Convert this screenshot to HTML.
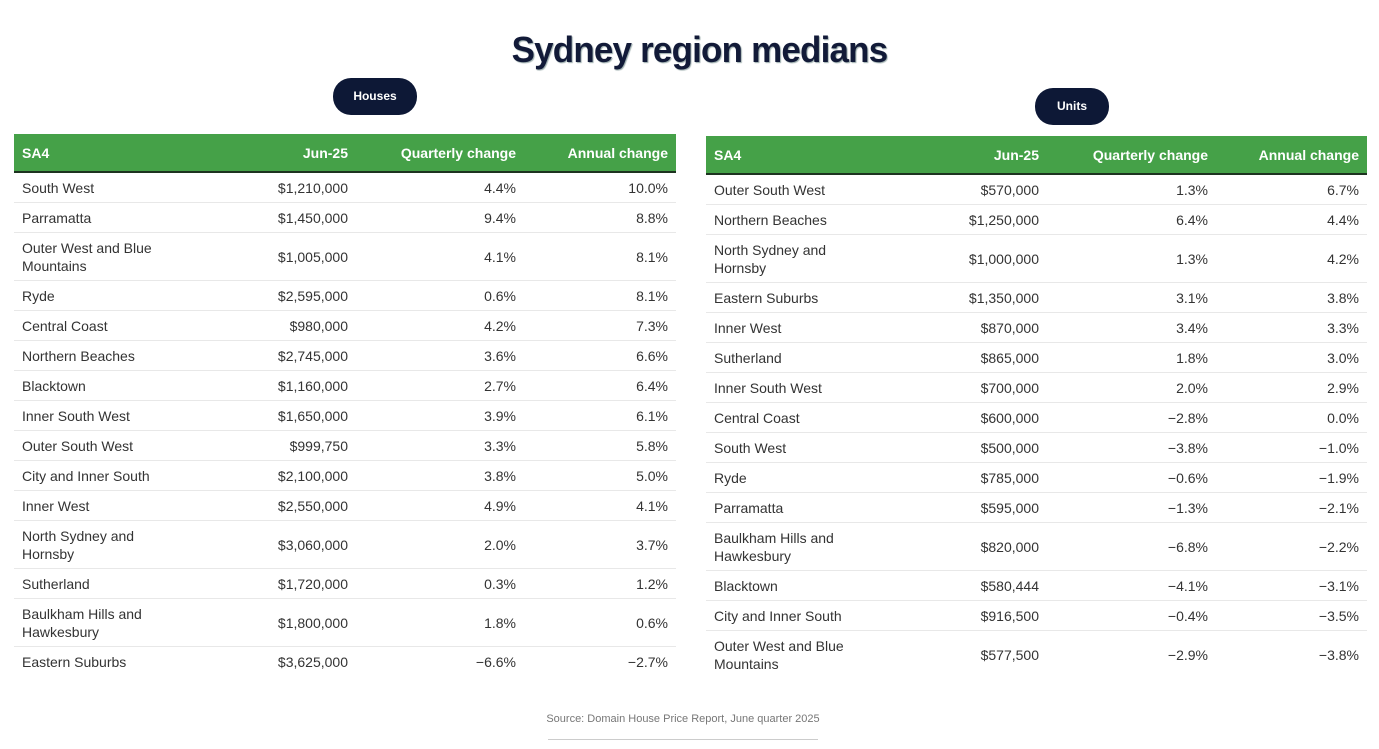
<!DOCTYPE html>
<html><head><meta charset="utf-8"><style>
body{margin:0;width:1379px;height:749px;background:#fff;position:relative;overflow:hidden;font-family:"Liberation Sans",sans-serif;}
.title{position:absolute;left:0;width:1399px;top:29px;text-align:center;font-size:36px;font-weight:bold;color:#121a38;letter-spacing:-0.8px;text-shadow:1px 1px 1px #9aa;transform:scaleX(0.97);}
.pill{position:absolute;background:#0d1836;color:#fff;font-weight:bold;font-size:12px;border-radius:18px;text-align:center;}
table{position:absolute;border-collapse:collapse;font-size:14px;color:#333;}
th{background:#45a148;color:#fff;font-size:14px;font-weight:bold;height:37px;border-bottom:2px solid #1d3320;text-align:right;padding:0 8px;}
th:first-child,td:first-child{text-align:left;}
td{height:29px;border-bottom:1px solid #e8e8e8;text-align:right;padding:0 8px;line-height:18px;}
td.d{height:47px;}
tr:last-child td{border-bottom:none;}
.src{position:absolute;left:448px;width:470px;top:713px;text-align:center;font-size:11px;color:#777;white-space:nowrap;}
.ln{position:absolute;left:548px;width:270px;top:739px;height:1px;background:#ccc;}
</style></head><body>
<div class="title">Sydney region medians</div>
<div class="pill" style="left:333px;top:78px;width:84px;height:37px;line-height:37px;">Houses</div>
<div class="pill" style="left:1035px;top:88px;width:74px;height:37px;line-height:37px;">Units</div>
<table style="left:14px;top:134px;width:662px;">
<colgroup><col style="width:186px"><col style="width:156px"><col style="width:168px"><col style="width:152px"></colgroup>
<tr><th>SA4</th><th>Jun-25</th><th>Quarterly change</th><th>Annual change</th></tr>
<tr><td>South West</td><td>$1,210,000</td><td>4.4%</td><td>10.0%</td></tr>
<tr><td>Parramatta</td><td>$1,450,000</td><td>9.4%</td><td>8.8%</td></tr>
<tr><td class="d">Outer West and Blue<br>Mountains</td><td>$1,005,000</td><td>4.1%</td><td>8.1%</td></tr>
<tr><td>Ryde</td><td>$2,595,000</td><td>0.6%</td><td>8.1%</td></tr>
<tr><td>Central Coast</td><td>$980,000</td><td>4.2%</td><td>7.3%</td></tr>
<tr><td>Northern Beaches</td><td>$2,745,000</td><td>3.6%</td><td>6.6%</td></tr>
<tr><td>Blacktown</td><td>$1,160,000</td><td>2.7%</td><td>6.4%</td></tr>
<tr><td>Inner South West</td><td>$1,650,000</td><td>3.9%</td><td>6.1%</td></tr>
<tr><td>Outer South West</td><td>$999,750</td><td>3.3%</td><td>5.8%</td></tr>
<tr><td>City and Inner South</td><td>$2,100,000</td><td>3.8%</td><td>5.0%</td></tr>
<tr><td>Inner West</td><td>$2,550,000</td><td>4.9%</td><td>4.1%</td></tr>
<tr><td class="d">North Sydney and<br>Hornsby</td><td>$3,060,000</td><td>2.0%</td><td>3.7%</td></tr>
<tr><td>Sutherland</td><td>$1,720,000</td><td>0.3%</td><td>1.2%</td></tr>
<tr><td class="d">Baulkham Hills and<br>Hawkesbury</td><td>$1,800,000</td><td>1.8%</td><td>0.6%</td></tr>
<tr><td>Eastern Suburbs</td><td>$3,625,000</td><td>−6.6%</td><td>−2.7%</td></tr>
</table>
<table style="left:706px;top:136px;width:661px;">
<colgroup><col style="width:184px"><col style="width:157px"><col style="width:169px"><col style="width:151px"></colgroup>
<tr><th>SA4</th><th>Jun-25</th><th>Quarterly change</th><th>Annual change</th></tr>
<tr><td>Outer South West</td><td>$570,000</td><td>1.3%</td><td>6.7%</td></tr>
<tr><td>Northern Beaches</td><td>$1,250,000</td><td>6.4%</td><td>4.4%</td></tr>
<tr><td class="d">North Sydney and<br>Hornsby</td><td>$1,000,000</td><td>1.3%</td><td>4.2%</td></tr>
<tr><td>Eastern Suburbs</td><td>$1,350,000</td><td>3.1%</td><td>3.8%</td></tr>
<tr><td>Inner West</td><td>$870,000</td><td>3.4%</td><td>3.3%</td></tr>
<tr><td>Sutherland</td><td>$865,000</td><td>1.8%</td><td>3.0%</td></tr>
<tr><td>Inner South West</td><td>$700,000</td><td>2.0%</td><td>2.9%</td></tr>
<tr><td>Central Coast</td><td>$600,000</td><td>−2.8%</td><td>0.0%</td></tr>
<tr><td>South West</td><td>$500,000</td><td>−3.8%</td><td>−1.0%</td></tr>
<tr><td>Ryde</td><td>$785,000</td><td>−0.6%</td><td>−1.9%</td></tr>
<tr><td>Parramatta</td><td>$595,000</td><td>−1.3%</td><td>−2.1%</td></tr>
<tr><td class="d">Baulkham Hills and<br>Hawkesbury</td><td>$820,000</td><td>−6.8%</td><td>−2.2%</td></tr>
<tr><td>Blacktown</td><td>$580,444</td><td>−4.1%</td><td>−3.1%</td></tr>
<tr><td>City and Inner South</td><td>$916,500</td><td>−0.4%</td><td>−3.5%</td></tr>
<tr><td class="d">Outer West and Blue<br>Mountains</td><td>$577,500</td><td>−2.9%</td><td>−3.8%</td></tr>
</table>
<div class="src">Source: Domain House Price Report, June quarter 2025</div>
<div class="ln"></div>
</body></html>
